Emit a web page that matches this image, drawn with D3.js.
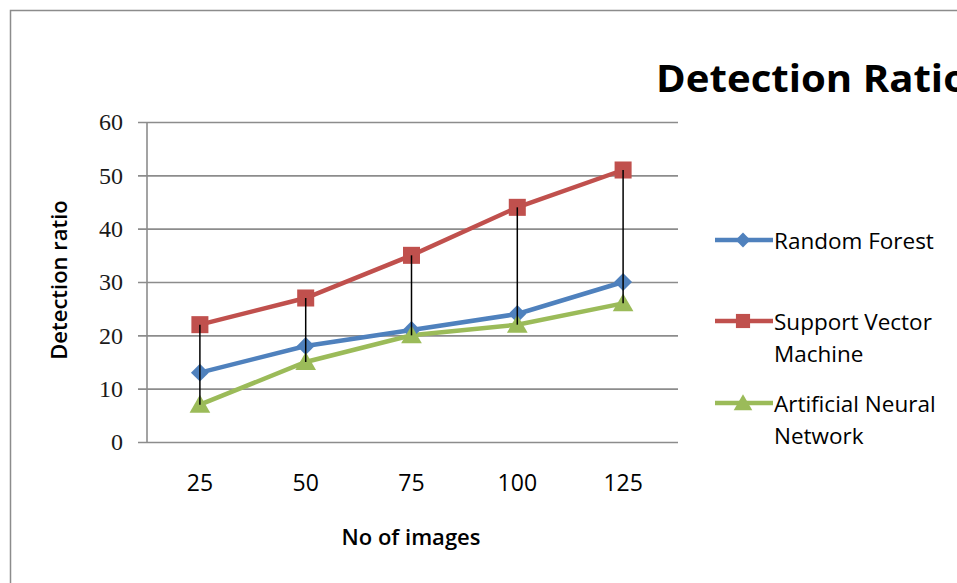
<!doctype html>
<html>
<head>
<meta charset="utf-8">
<title>Detection Ratio</title>
<script src="https://cdn.jsdelivr.net/npm/d3@7"></script>
<style>
  body { margin: 0; background: #fff; }
  svg { display: block; }
</style>
</head>
<body>
<div id="chart-area"></div>
<script>
  var categories = ['25', '50', '75', '100', '125'];
  var seriesNames = ['Random Forest', 'Support Vector Machine', 'Artificial Neural Network'];
  var randomForest = [13, 18, 21, 24, 30];
  var supportVector = [22, 27, 35, 44, 51];
  var neuralNetwork = [7, 15, 20, 22, 26];
  var yTicks = [0, 10, 20, 30, 40, 50, 60];

  var series = [
    {name: seriesNames[0], values: randomForest, color: '#4f81bd', shape: 'diamond', label: ['Random Forest']},
    {name: seriesNames[1], values: supportVector, color: '#c0504d', shape: 'square', label: ['Support Vector', 'Machine']},
    {name: seriesNames[2], values: neuralNetwork, color: '#9bbb59', shape: 'triangle', label: ['Artificial Neural', 'Network']}
  ];

  var W = 957, H = 583;
  var svg = d3.select('#chart-area').append('svg')
      .attr('width', W)
      .attr('height', H);

  // chart frame (runs off the right and bottom)
  svg.append('path')
      .attr('d', 'M10.5,' + (H + 5) + 'V10.5H' + (W + 5))
      .attr('fill', 'none')
      .attr('stroke', '#8c8c8c')
      .attr('stroke-width', 1.5);

  // title, clipped at right edge like the original
  svg.append('text')
      .attr('x', 656)
      .attr('y', 92)
      .attr('font-family', 'Open Sans, sans-serif')
      .attr('font-weight', 'bold')
      .attr('font-size', '38px')
      .attr('textLength', 312)
      .attr('lengthAdjust', 'spacingAndGlyphs')
      .attr('fill', '#000')
      .text('Detection Ratio');

  var plotLeft = 147, plotRight = 676, plotTop = 122, plotBottom = 442;

  var x = d3.scaleBand()
      .domain(categories)
      .range([plotLeft, plotRight]);
  var y = d3.scaleLinear()
      .domain([0, 60])
      .range([plotBottom, plotTop]);

  // y axis with gridlines
  var yAxis = svg.append('g')
      .attr('transform', 'translate(' + plotLeft + ',0)')
      .call(d3.axisLeft(y).tickValues(yTicks).tickSize(9).tickPadding(15));
  yAxis.select('.domain').remove();
  yAxis.selectAll('.tick line')
      .attr('x1', -9)
      .attr('x2', plotRight - plotLeft + 2)
      .attr('stroke', '#8c8c8c')
      .attr('stroke-width', 1.6);
  yAxis.selectAll('.tick text')
      .attr('font-family', 'Liberation Serif, serif')
      .attr('font-size', '24px')
      .attr('fill', '#1a1a1a');
  svg.append('line')
      .attr('x1', plotLeft).attr('x2', plotLeft)
      .attr('y1', plotTop).attr('y2', plotBottom)
      .attr('stroke', '#8c8c8c')
      .attr('stroke-width', 1.6);

  // x axis labels
  var xAxis = svg.append('g')
      .attr('transform', 'translate(0,' + plotBottom + ')')
      .call(d3.axisBottom(x).tickSize(0).tickPadding(33));
  xAxis.select('.domain').remove();
  xAxis.selectAll('.tick text')
      .attr('font-family', 'Open Sans, sans-serif')
      .attr('font-size', '23px')
      .attr('fill', '#000');

  // axis titles
  svg.append('text')
      .attr('transform', 'translate(67,280) rotate(-90)')
      .attr('text-anchor', 'middle')
      .attr('font-family', 'Open Sans, sans-serif')
      .attr('font-weight', '600')
      .attr('font-size', '22px')
      .text('Detection ratio');
  svg.append('text')
      .attr('x', 411)
      .attr('y', 545)
      .attr('text-anchor', 'middle')
      .attr('font-family', 'Open Sans, sans-serif')
      .attr('font-weight', '600')
      .attr('font-size', '22px')
      .text('No of images');

  function cx(i) { return x(categories[i]) + x.bandwidth() / 2; }

  var symbolFor = {
    diamond: d3.symbol().type(d3.symbolSquare).size(160),
    square: d3.symbol().type(d3.symbolSquare).size(290),
    triangle: d3.symbol().type(d3.symbolTriangle).size(185)
  };
  var rotateFor = {diamond: ' rotate(45)', square: '', triangle: ''};
  var offsetFor = {diamond: 0, square: 0, triangle: 2};

  var line = d3.line()
      .x(function(d, i) { return cx(i); })
      .y(function(d) { return y(d); });

  series.forEach(function(s) {
    svg.append('path')
        .datum(s.values)
        .attr('d', line)
        .attr('fill', 'none')
        .attr('stroke', s.color)
        .attr('stroke-width', 4.5);
  });

  series.forEach(function(s) {
    svg.selectAll(null)
        .data(s.values)
        .enter()
        .append('path')
        .attr('d', symbolFor[s.shape])
        .attr('transform', function(d, i) {
          return 'translate(' + cx(i) + ',' + (y(d) + offsetFor[s.shape]) + ')' + rotateFor[s.shape];
        })
        .attr('fill', s.color);
  });

  // high-low drop lines
  svg.selectAll('.hilo')
      .data(categories)
      .enter()
      .append('line')
      .attr('class', 'hilo')
      .attr('x1', function(d, i) { return cx(i); })
      .attr('x2', function(d, i) { return cx(i); })
      .attr('y1', function(d, i) { return y(d3.max(series, function(s) { return s.values[i]; })); })
      .attr('y2', function(d, i) { return y(d3.min(series, function(s) { return s.values[i]; })); })
      .attr('stroke', '#000')
      .attr('stroke-width', 1.5);

  // legend
  var legendSymbol = {
    diamond: d3.symbol().type(d3.symbolSquare).size(110),
    square: d3.symbol().type(d3.symbolSquare).size(200),
    triangle: d3.symbol().type(d3.symbolTriangle).size(150)
  };
  var legendRows = [240, 321, 403];
  series.forEach(function(s, k) {
    var ly = legendRows[k];
    var g = svg.append('g');
    g.append('line')
        .attr('x1', 715).attr('x2', 773)
        .attr('y1', ly).attr('y2', ly)
        .attr('stroke', s.color)
        .attr('stroke-width', 4.5);
    g.append('path')
        .attr('d', legendSymbol[s.shape])
        .attr('transform', 'translate(743,' + (ly + offsetFor[s.shape]) + ')' + rotateFor[s.shape])
        .attr('fill', s.color);
    s.label.forEach(function(t, j) {
      g.append('text')
          .attr('x', 774)
          .attr('y', ly + 9 + j * 32)
          .attr('font-family', 'Open Sans, sans-serif')
          .attr('font-size', '22.5px')
          .attr('font-weight', '500')
          .attr('fill', '#000')
          .text(t);
    });
  });
</script>
</body>
</html>
